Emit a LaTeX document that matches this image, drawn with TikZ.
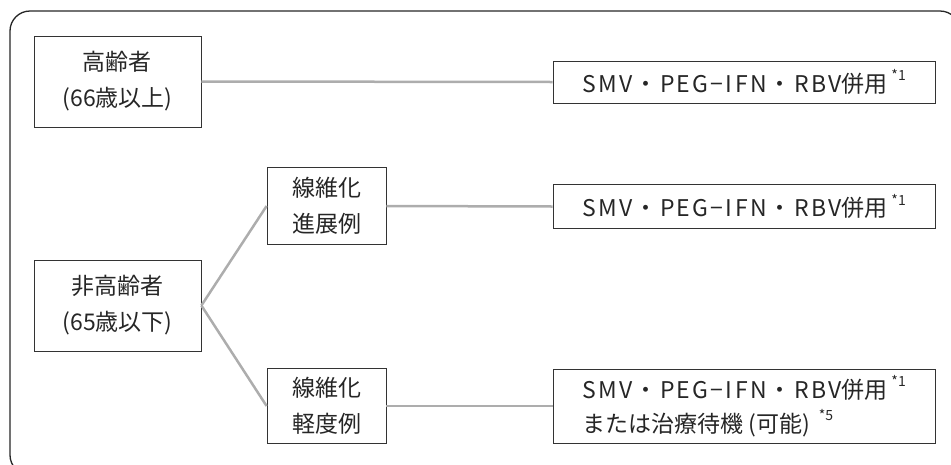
\documentclass[tikz,border=0pt]{standalone}
\usepackage{fontspec}
\setmainfont{Noto Sans CJK JP}
\newcommand{\fnm}[1]{\,\raisebox{0.5em}{\fontsize{14pt}{14pt}\selectfont *#1}}
\newcommand{\wide}[1]{{\addfontfeature{LetterSpace=10}#1}}
\begin{document}
\begin{tikzpicture}[x=1pt,y=-1pt,
  box/.style={draw=black!80, line width=0.8pt, inner sep=0pt, align=center,
    font=\fontsize{23pt}{36pt}\selectfont, text=black!85},
  rbox/.style={box, font=\fontsize{23pt}{34pt}\selectfont},
  link/.style={draw=black!32, line width=2.5pt}]
\useasboundingbox (0,0) rectangle (951,464);
\begin{scope}
\clip (0,0) rectangle (951,464);
\draw[black!85, line width=1.3pt, rounded corners=20pt] (10,11) rectangle (960,475);
\end{scope}
\node[box, minimum width=167pt, minimum height=91pt] (old) at (117.5,81.5) {高齢者\\(66歳以上)};
\node[box, minimum width=167pt, minimum height=91pt] (young) at (117.5,305.5) {非高齢者\\(65歳以下)};
\node[box, minimum width=119pt, minimum height=77pt] (adv) at (326.5,206) {線維化\\進展例};
\node[box, minimum width=119pt, minimum height=75pt] (mild) at (326.5,406) {線維化\\軽度例};
\node[rbox, minimum width=382pt, minimum height=42pt] (r1) at (744,82) {\wide{SMV・PEG−IFN・RBV}併用\fnm{1}};
\node[rbox, minimum width=382pt, minimum height=44pt] (r2) at (744,206.5) {\wide{SMV・PEG−IFN・RBV}併用\fnm{1}};
\node[rbox, minimum width=382pt, minimum height=74pt, align=left] (r3) at (744,406) {\wide{SMV・PEG−IFN・RBV}併用\fnm{1}\\または治療待機 (可能) \fnm{5}};
\draw[link] (old.east) -- (r1.west);
\draw[link] (young.east) -- (adv.west);
\draw[link] (young.east) -- (mild.west);
\draw[link] (adv.east) -- (r2.west);
\draw[link] (mild.east) -- (r3.west);
\end{tikzpicture}
\end{document}
